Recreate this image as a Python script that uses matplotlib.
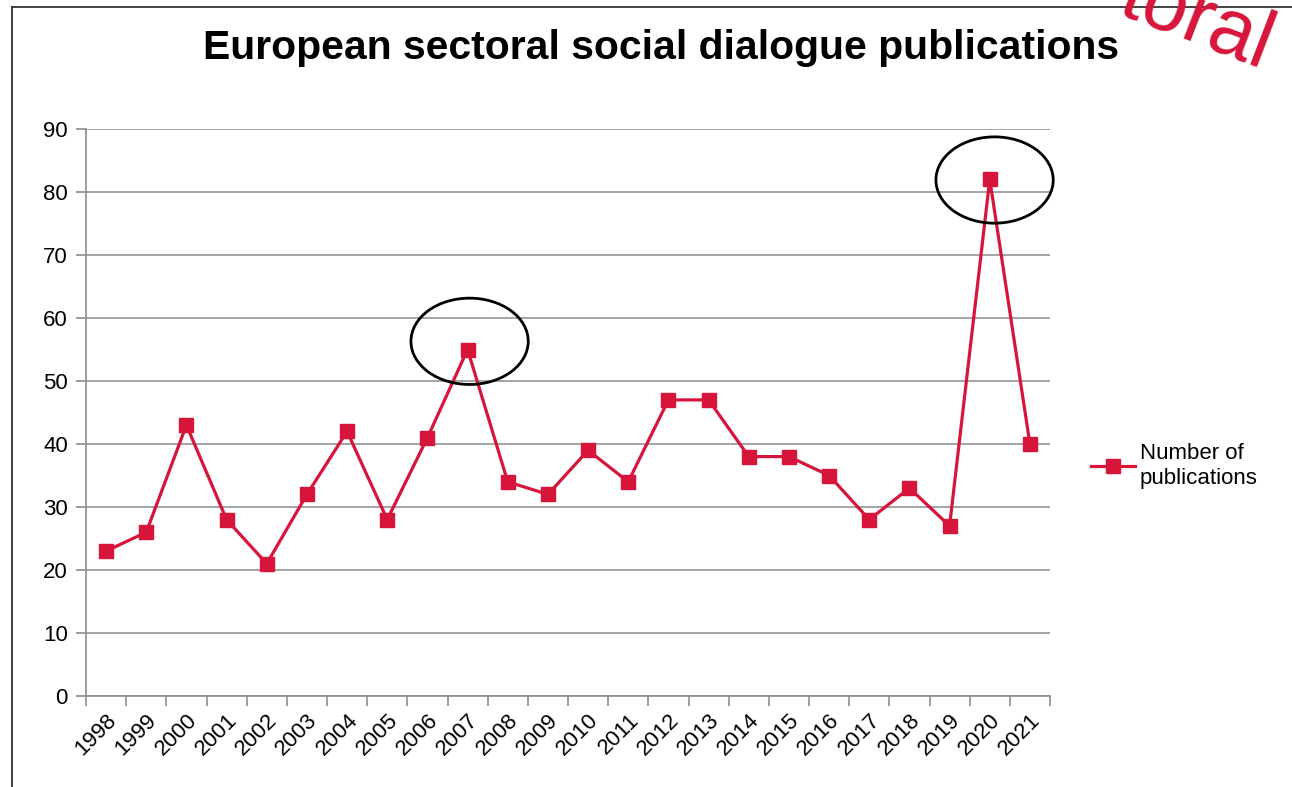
import numpy as np
import matplotlib.pyplot as plt
from matplotlib.patches import Ellipse
from matplotlib.lines import Line2D

years = [str(y) for y in range(1998, 2022)]
publications = [23, 26, 43, 28, 21, 32, 42, 28, 41, 55, 34, 32, 39, 34,
                47, 47, 38, 38, 35, 28, 33, 27, 82, 40]
# circled peaks: year, centre offset (x, y) in data units
highlight = [('2007', 0.05, 1.3), ('2020', 0.12, -0.1)]

red = '#D7153A'
grey = '#8c8c8c'
plt.rcParams['font.family'] = ['Liberation Sans', 'DejaVu Sans']

fig = plt.figure(figsize=(12.92, 7.87), dpi=100)
ax = fig.add_axes([86/1292, 1 - 696/787, (1050 - 86)/1292, (696 - 129)/787])

x = np.arange(len(years)) + 0.5
ax.plot(x, publications, color=red, lw=2.3, marker='s', ms=9.5,
        label='Number of\npublications', zorder=3)

ax.set_xlim(0, len(years))
ax.set_ylim(0, 90)
ax.set_yticks(np.arange(0, 91, 10))
ax.set_xticks(x)
ax.set_xticklabels(years, rotation=45, ha='right', rotation_mode='anchor')
ax.set_xticks(np.arange(0, len(years) + 1), minor=True)
ax.tick_params(axis='x', which='major', length=0, pad=10, labelsize=16)
ax.tick_params(axis='x', which='minor', length=7, color=grey, width=1.2, direction='out')
ax.tick_params(axis='y', length=7, color=grey, width=1.2, labelsize=16, pad=6)

ax.grid(axis='y', color=grey, lw=1.1)
ax.set_axisbelow(True)
for s in ['top', 'right']:
    ax.spines[s].set_visible(False)
for s in ['left', 'bottom']:
    ax.spines[s].set_color(grey)
    ax.spines[s].set_linewidth(1.2)

# circles around the two peaks
for yr, dx, dy in highlight:
    i = years.index(yr)
    ax.add_patch(Ellipse((x[i] + dx, publications[i] + dy), 2.92, 13.7,
                         fill=False, ec='black', lw=2.0, clip_on=False, zorder=4))

handle = Line2D([], [], color=red, lw=2.3, marker='s', ms=9.5)
fig.legend([handle], ['Number of\npublications'], loc='center left',
           bbox_to_anchor=(1071/1292, 1 - 466/787), frameon=False,
           fontsize=16, handlelength=2.0, handletextpad=0.2, labelspacing=0.2)

fig.text(661/1292, 1 - 48/787, 'European sectoral social dialogue publications',
         ha='center', va='center', fontsize=29.4, fontweight='bold')

# slide frame
fig.add_artist(Line2D([12/1292, 12/1292], [0, 1 - 7/787], color='#333333', lw=1.3))
fig.add_artist(Line2D([12/1292, 1], [1 - 7/787, 1 - 7/787], color='#333333', lw=1.3))

# fragment of slide heading behind the chart
fig.text(1197/1292, 1 - 22/787, 'toral', color=red, fontsize=58, rotation=-21,
         ha='center', va='center')

fig.savefig('out.png', dpi=100)
